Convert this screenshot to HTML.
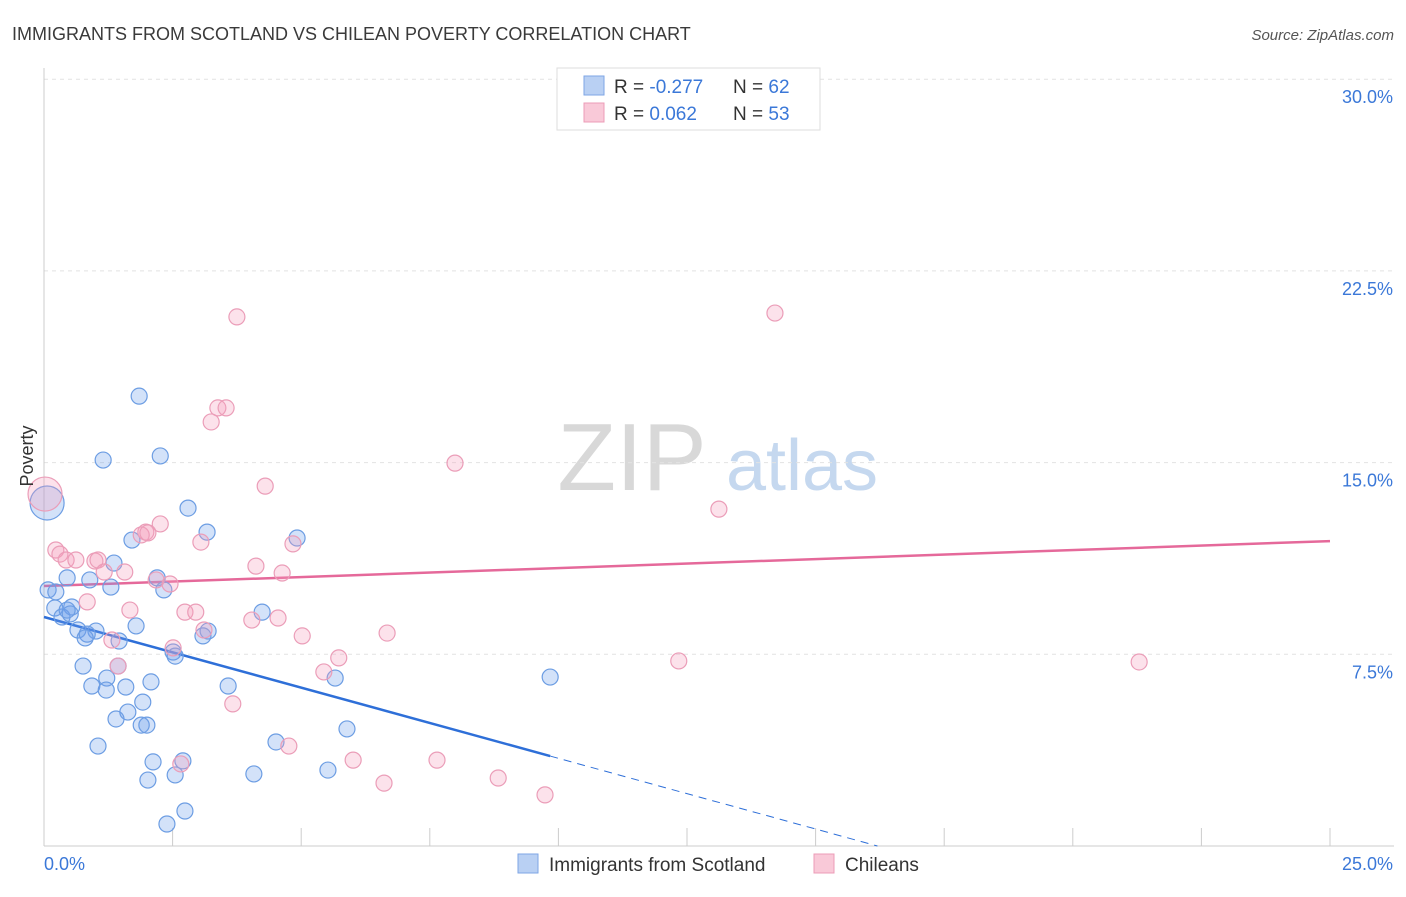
<!DOCTYPE html>
<html><head><meta charset="utf-8"><style>
body{margin:0;background:#fff;font-family:"Liberation Sans",sans-serif}
svg text{font-family:"Liberation Sans",sans-serif}
</style></head><body>
<svg id="chart" width="1406" height="892" xmlns="http://www.w3.org/2000/svg">
<text x="12" y="40" font-size="18" fill="#3a3a3a">IMMIGRANTS FROM SCOTLAND VS CHILEAN POVERTY CORRELATION CHART</text>
<text x="1394" y="40" font-size="15" fill="#555" text-anchor="end" font-style="italic">Source: ZipAtlas.com</text>
<g>
<text x="632" y="490" font-size="96" fill="#d8d8d8" font-family="Liberation Serif" text-anchor="middle">ZIP</text>
<text x="802" y="490" font-size="72" fill="#c5d8ef" text-anchor="middle">atlas</text>
</g>
<g id="grid"></g>
<g id="axes"></g>
<g id="lines"></g>
<g id="points"></g>
<g>
<rect x="557" y="68" width="263" height="62" fill="#fff" stroke="#ddd"/>
<rect x="584" y="76" width="20" height="19" fill="#b9d0f3" stroke="#7ea6e6"/>
<rect x="584" y="103" width="20" height="19" fill="#f9c9d8" stroke="#ec9cb7"/>
<text x="614" y="93" font-size="19" fill="#333">R = <tspan fill="#3b78d8">-0.277</tspan></text>
<text x="733" y="93" font-size="19" fill="#333">N = <tspan fill="#3b78d8">62</tspan></text>
<text x="614" y="120" font-size="19" fill="#333">R = <tspan fill="#3b78d8"> 0.062</tspan></text>
<text x="733" y="120" font-size="19" fill="#333">N = <tspan fill="#3b78d8">53</tspan></text>
</g>
<g>
<rect x="518" y="854" width="20" height="19" fill="#b9d0f3" stroke="#7ea6e6"/>
<text x="549" y="871" font-size="19" fill="#333">Immigrants from Scotland</text>
<rect x="814" y="854" width="20" height="19" fill="#f9c9d8" stroke="#ec9cb7"/>
<text x="845" y="871" font-size="19" fill="#333">Chileans</text>
</g>
<text transform="translate(33,456) rotate(-90)" font-size="18" fill="#333" text-anchor="middle">Poverty</text>
</svg>
<script>
const yTicks=[7.5,15,22.5,30];
const yTickLabels=["7.5%","15.0%","22.5%","30.0%"];
const xTicks=[0,2.5,5,7.5,10,12.5,15,17.5,20,22.5,25];
const xTickLabels=["0.0%","25.0%"];
const scotX=[1.85,1.15,2.26,2.80,3.17,4.92,1.71,1.36,0.45,0.89,2.20,1.30,2.33,0.08,0.23,0.21,0.54,0.35,0.51,0.45,4.24,1.79,0.66,1.01,3.19,0.84,0.80,1.46,3.09,2.51,2.55,0.76,1.44,5.66,9.84,1.22,2.08,0.93,1.59,1.21,3.58,1.92,1.63,1.40,1.89,2.00,5.89,1.05,4.51,2.12,2.70,2.55,2.02,4.08,5.52,2.74,2.39,0.06];
const scotY=[17.6,15.1,15.26,13.22,12.28,12.05,11.97,11.07,10.49,10.41,10.49,10.13,10.02,10.02,9.94,9.31,9.35,8.96,9.08,9.23,9.15,8.61,8.45,8.41,8.41,8.29,8.14,8.02,8.22,7.59,7.43,7.04,7.04,6.57,6.61,6.57,6.42,6.26,6.22,6.10,6.26,5.63,5.24,4.97,4.73,4.73,4.58,3.91,4.07,3.29,3.33,2.78,2.58,2.82,2.97,1.37,0.86,13.42];
const chileX=[3.75,14.21,3.38,3.54,3.25,7.99,4.30,13.12,2.26,1.98,1.89,2.02,3.05,4.84,0.23,0.31,0.43,0.62,0.99,1.05,4.12,4.63,1.17,1.57,2.18,2.45,0.84,1.67,2.74,2.95,4.04,4.55,5.02,6.67,3.11,1.32,2.51,1.44,5.73,5.44,12.34,21.29,3.67,4.76,6.01,7.64,8.83,6.61,9.74,2.66,0.02];
const chileY=[20.70,20.85,17.14,17.14,16.59,14.98,14.08,13.18,12.60,12.28,12.17,12.25,11.89,11.82,11.58,11.42,11.19,11.19,11.15,11.19,10.95,10.68,10.72,10.72,10.41,10.25,9.55,9.23,9.15,9.15,8.84,8.92,8.22,8.33,8.45,8.06,7.75,7.04,7.36,6.81,7.24,7.20,5.56,3.91,3.36,3.36,2.66,2.46,2.00,3.21,13.77];
const scotTrend=[8.96,-0.553];
const chileTrend=[10.17,0.0704];
const NS="http://www.w3.org/2000/svg";
const X0=44,X1=1330,Y0=846,YPX=25.56;
const sx=v=>X0+(X1-X0)*v/25;
const sy=v=>Y0-v*YPX;
function mk(tag,attrs,parent){const e=document.createElementNS(NS,tag);for(const k in attrs)e.setAttribute(k,attrs[k]);parent.appendChild(e);return e;}
const grid=document.getElementById('grid'),axes=document.getElementById('axes');
yTicks.forEach((t,i)=>{
 const g=mk('line',{x1:X0,x2:1394,y1:sy(t),y2:sy(t),stroke:'#e2e2e2','stroke-dasharray':'4,4'},grid);
 
 
 const l=mk('text',{x:1393,y:sy(t)+24,'font-size':18,fill:'#3b78d8','text-anchor':'end'},axes);
 l.textContent=yTickLabels[i];
 
 
});
const ya=mk('line',{x1:X0,x2:X0,y1:68,y2:Y0,stroke:'#ccc'},axes);


const xa=mk('line',{x1:X0,x2:1394,y1:Y0,y2:Y0,stroke:'#ccc'},axes);


xTicks.forEach(t=>{
 const k=mk('line',{x1:sx(t),x2:sx(t),y1:Y0-18,y2:Y0,stroke:'#ccc'},axes);
 
 
});
const xl0=mk('text',{x:44,y:870,'font-size':18,fill:'#3b78d8'},axes);
xl0.textContent=xTickLabels[0];


const xl1=mk('text',{x:1393,y:870,'font-size':18,fill:'#3b78d8','text-anchor':'end'},axes);
xl1.textContent=xTickLabels[1];


const pts=document.getElementById('points');
function dot(x,y,big,fill,stroke,name){
 const c=mk('circle',{cx:sx(x),cy:sy(y),r:big?17:8,fill:fill,stroke:stroke,'stroke-width':1.2},pts);
 
 
}
scotX.forEach((x,i)=>dot(x,scotY[i],i===scotX.length-1,'rgba(110,160,235,0.3)','#6c9de3','point-scotland'));
chileX.forEach((x,i)=>dot(x,chileY[i],i===chileX.length-1,'rgba(245,160,190,0.3)','#eb9db8','point-chileans'));
const ln=document.getElementById('lines');
const bxEnd=9.84,bx0=-scotTrend[0]/scotTrend[1];
const bl=mk('line',{x1:sx(0),y1:sy(scotTrend[0]),x2:sx(bxEnd),y2:sy(scotTrend[0]+scotTrend[1]*bxEnd),stroke:'#2e6fd8','stroke-width':2.5},ln);


const bd=mk('line',{x1:sx(bxEnd),y1:sy(scotTrend[0]+scotTrend[1]*bxEnd),x2:sx(bx0),y2:sy(0),stroke:'#2e6fd8','stroke-width':1,'stroke-dasharray':'8,6'},ln);


const pl=mk('line',{x1:sx(0),y1:sy(chileTrend[0]),x2:sx(25),y2:sy(chileTrend[0]+chileTrend[1]*25),stroke:'#e5699a','stroke-width':2.5},ln);


</script>
</body></html>
